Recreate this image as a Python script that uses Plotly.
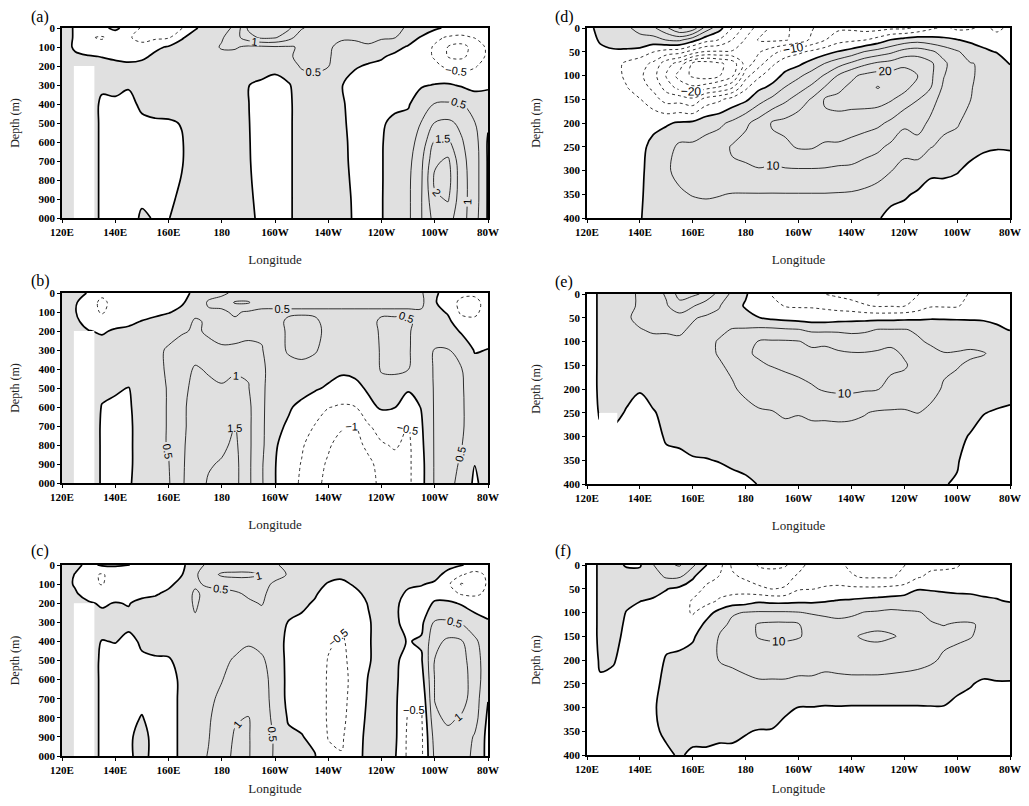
import numpy as np
import plotly.graph_objects as go

# ---------------- axes / ticks ----------------
lon = [120, 125, 130, 135, 140, 145, 150, 155, 160, 165, 170, 175, 180, 185, 190, 195, 200,
       205, 210, 215, 220, 225, 230, 235, 240, 245, 250, 255, 260, 265, 270, 275, 280]
depth_deep = [0, 50, 100, 150, 200, 300, 400, 500, 600, 700, 800, 900, 1000]
depth_shallow = [0, 25, 50, 75, 100, 125, 150, 200, 250, 300, 350, 400]

lon_tickvals = [120, 140, 160, 180, 200, 220, 240, 260, 280]
lon_ticktext = ["120E", "140E", "160E", "180", "160W", "140W", "120W", "100W", "80W"]
deep_tickvals = [0, 100, 200, 300, 400, 500, 600, 700, 800, 900, 1000]
deep_ticktext = ["0", "100", "200", "300", "400", "500", "600", "700", "800", "900", "000"]
shallow_tickvals = [0, 50, 100, 150, 200, 250, 300, 350, 400]
shallow_ticktext = ["0", "50", "100", "150", "200", "250", "300", "350", "400"]

# land / missing-data strips
mask_lon_abc = [124.4, 132.2]
mask_depth_abc = [200, 1000]
mask_lon_e = [124.5, 131.5]
mask_depth_e = [250, 400]

# ---------------- panel data: one list per longitude (values down the depth levels) ----------------
panel_a = [
    [0.2, 0.2, 0.15, 0.2, 0.2, 0.2, 0.2, 0.2, 0.2, 0.2, 0.2, 0.2, 0.2],
    [-0.05, -0.05, -0.05, 0.05, 0.15, 0.2, 0.2, 0.2, 0.2, 0.2, 0.2, 0.2, 0.2],
    [-0.3, -0.45, -0.4, 0.05, 0.2, 0.3, 0.3, 0.3, 0.3, 0.3, 0.3, 0.3, 0.3],
    [-0.1, -0.55, -0.3, -0.02, 0.2, 0.1, -0.1, -0.1, -0.1, -0.1, -0.1, -0.1, -0.1],
    [0.1, -0.3, -0.3, -0.1, 0.15, 0.15, -0.1, -0.25, -0.25, -0.25, -0.25, -0.25, -0.25],
    [-0.2, -0.45, -0.35, -0.15, 0.1, 0.05, -0.15, -0.3, -0.3, -0.3, -0.3, -0.3, -0.3],
    [-0.55, -0.65, -0.35, -0.1, 0.15, 0.2, 0.1, -0.1, -0.25, -0.25, -0.25, -0.1, 0.1],
    [-0.6, -0.6, -0.1, 0.1, 0.25, 0.25, 0.15, -0.05, -0.2, -0.2, -0.2, -0.1, -0.05],
    [-0.6, -0.55, 0.05, 0.2, 0.25, 0.3, 0.2, -0.05, -0.15, -0.15, -0.15, -0.1, -0.02],
    [-0.52, -0.05, 0.2, 0.25, 0.25, 0.3, 0.2, 0.02, -0.03, -0.03, 0.02, 0.1, 0.2],
    [-0.05, 0.2, 0.25, 0.3, 0.3, 0.3, 0.25, 0.25, 0.25, 0.25, 0.25, 0.25, 0.25],
    [0.2, 0.3, 0.3, 0.3, 0.3, 0.3, 0.3, 0.3, 0.3, 0.3, 0.3, 0.3, 0.3],
    [0.3, 0.45, 0.55, 0.35, 0.3, 0.3, 0.3, 0.3, 0.3, 0.3, 0.3, 0.3, 0.3],
    [0.6, 0.8, 0.55, 0.35, 0.3, 0.25, 0.25, 0.25, 0.25, 0.25, 0.25, 0.25, 0.25],
    [1.6, 1.3, 0.4, 0.3, 0.25, 0.01, 0.01, 0.02, 0.03, 0.04, 0.05, 0.07, 0.1],
    [1.9, 1.6, 0.4, 0.3, 0.25, -0.1, -0.2, -0.2, -0.2, -0.2, -0.15, -0.12, -0.1],
    [1.8, 1.55, 0.45, 0.35, 0.2, -0.25, -0.3, -0.3, -0.3, -0.3, -0.3, -0.3, -0.3],
    [1.6, 1.2, 0.45, 0.45, 0.3, -0.05, -0.1, -0.1, -0.1, -0.1, -0.1, -0.1, -0.1],
    [1.05, 0.7, 0.55, 0.6, 0.55, 0.25, 0.25, 0.25, 0.25, 0.25, 0.25, 0.25, 0.25],
    [0.8, 0.6, 0.6, 0.65, 0.6, 0.3, 0.3, 0.3, 0.3, 0.3, 0.3, 0.3, 0.3],
    [0.7, 0.6, 0.55, 0.55, 0.52, 0.25, 0.25, 0.25, 0.25, 0.25, 0.25, 0.25, 0.25],
    [0.7, 0.55, 0.4, 0.3, 0.1, 0.02, 0.05, 0.08, 0.1, 0.1, 0.12, 0.12, 0.15],
    [0.7, 0.55, 0.4, 0.2, 0.05, -0.2, -0.15, -0.15, -0.12, -0.1, -0.08, -0.05, -0.05],
    [0.7, 0.6, 0.45, 0.15, -0.05, -0.3, -0.3, -0.3, -0.3, -0.3, -0.3, -0.3, -0.3],
    [0.7, 0.55, 0.3, 0.05, -0.1, -0.3, -0.2, -0.05, -0.03, -0.03, -0.03, -0.03, -0.03],
    [0.6, 0.52, 0.15, -0.1, -0.2, -0.2, -0.1, 0.1, 0.2, 0.25, 0.25, 0.3, 0.3],
    [0.45, 0.25, -0.05, -0.3, -0.3, -0.2, -0.05, 0.15, 0.3, 0.35, 0.4, 0.4, 0.4],
    [0.3, -0.05, -0.3, -0.3, -0.3, -0.05, 0.3, 0.52, 0.7, 0.9, 0.95, 0.98, 0.98],
    [0.1, -0.4, -0.55, -0.55, -0.4, 0.02, 0.52, 1.02, 1.55, 1.9, 2.1, 1.9, 1.7],
    [-0.1, -0.55, -1.02, -1.02, -0.6, 0.05, 0.55, 1.1, 1.6, 2.1, 2.2, 2.05, 1.7],
    [-0.2, -0.6, -1.2, -1.1, -0.7, -0.05, 0.52, 0.9, 1.05, 1.15, 1.2, 1.2, 1.2],
    [-0.2, -0.48, -0.8, -0.8, -0.55, -0.1, 0.2, 0.52, 0.7, 0.75, 0.75, 0.75, 0.7],
    [-0.1, -0.3, -0.4, -0.4, -0.3, -0.05, 0.15, 0.05, -0.05, -0.05, -0.05, -0.05, -0.05],
]

panel_b = [
    [0.2, 0.2, 0.2, 0.2, 0.2, 0.2, 0.2, 0.2, 0.2, 0.2, 0.2, 0.2, 0.2],
    [0.1, 0.05, 0.02, 0.1, 0.2, 0.2, 0.2, 0.2, 0.2, 0.2, 0.2, 0.2, 0.2],
    [-0.02, -0.3, -0.3, -0.2, 0.02, 0.3, 0.3, 0.3, 0.3, 0.3, 0.3, 0.3, 0.3],
    [-0.4, -0.6, -0.55, -0.3, -0.05, 0.2, 0.25, 0.1, -0.02, -0.05, -0.05, -0.05, -0.05],
    [-0.3, -0.35, -0.3, -0.15, 0.05, 0.25, 0.3, 0.1, -0.15, -0.2, -0.2, -0.2, -0.2],
    [-0.3, -0.35, -0.3, -0.1, 0.1, 0.3, 0.3, -0.02, -0.1, -0.15, -0.15, -0.15, -0.1],
    [-0.3, -0.3, -0.2, 0.02, 0.15, 0.3, 0.35, 0.35, 0.35, 0.35, 0.35, 0.35, 0.35],
    [-0.3, -0.25, -0.05, 0.05, 0.2, 0.4, 0.4, 0.4, 0.4, 0.4, 0.4, 0.4, 0.4],
    [-0.3, -0.2, -0.03, 0.2, 0.35, 0.55, 0.55, 0.52, 0.52, 0.52, 0.52, 0.48, 0.45],
    [-0.15, -0.05, 0.1, 0.3, 0.45, 0.7, 0.8, 0.9, 0.95, 0.95, 0.95, 0.95, 0.95],
    [0.1, 0.2, 0.4, 0.55, 0.55, 0.8, 1.05, 1.1, 1.1, 1.1, 1.15, 1.2, 1.25],
    [0.35, 0.55, 0.45, 0.45, 0.45, 0.6, 0.95, 1.1, 1.2, 1.3, 1.4, 1.45, 1.55],
    [0.45, 0.6, 0.45, 0.45, 0.45, 0.52, 0.85, 1.05, 1.2, 1.3, 1.4, 1.55, 1.6],
    [0.55, 1.05, 0.55, 0.45, 0.4, 0.55, 0.95, 1.1, 1.25, 1.52, 1.6, 1.65, 1.65],
    [0.6, 1.05, 0.45, 0.45, 0.45, 0.55, 0.95, 1.02, 1.1, 1.1, 1.1, 1.1, 1.1],
    [0.55, 0.6, 0.45, 0.45, 0.45, 0.52, 0.6, 0.6, 0.6, 0.6, 0.6, 0.55, 0.55],
    [0.55, 0.6, 0.45, 0.4, 0.35, 0.3, 0.25, 0.2, 0.15, 0.1, 0.05, 0.02, 0.02],
    [0.55, 0.6, 0.45, 0.55, 0.55, 0.55, 0.35, 0.2, 0.05, -0.05, -0.2, -0.3, -0.35],
    [0.55, 0.6, 0.45, 0.6, 0.6, 0.6, 0.4, 0.15, -0.1, -0.3, -0.45, -0.52, -0.55],
    [0.55, 0.6, 0.45, 0.55, 0.6, 0.55, 0.3, 0.05, -0.25, -0.52, -0.7, -0.85, -0.9],
    [0.55, 0.6, 0.45, 0.4, 0.4, 0.3, 0.15, -0.05, -0.48, -0.8, -0.95, -1.05, -1.1],
    [0.55, 0.6, 0.45, 0.4, 0.35, 0.25, 0.1, -0.2, -0.55, -0.95, -1.15, -1.25, -1.3],
    [0.55, 0.6, 0.45, 0.4, 0.35, 0.25, 0.1, -0.1, -0.52, -1.02, -1.15, -1.25, -1.3],
    [0.55, 0.6, 0.45, 0.4, 0.35, 0.25, 0.15, 0.05, -0.1, -0.55, -0.9, -1.1, -1.15],
    [0.55, 0.6, 0.45, 0.55, 0.55, 0.55, 0.55, 0.3, 0.05, -0.3, -0.55, -0.85, -0.9],
    [0.55, 0.6, 0.45, 0.55, 0.6, 0.6, 0.6, 0.25, 0.01, -0.2, -0.45, -0.65, -0.7],
    [0.55, 0.6, 0.45, 0.55, 0.55, 0.55, 0.52, 0.05, -0.2, -0.52, -0.6, -0.6, -0.6],
    [0.55, 0.6, 0.45, 0.4, 0.3, 0.25, 0.2, 0.1, 0.02, -0.05, -0.1, -0.15, -0.15],
    [0.1, 0.05, 0.15, 0.25, 0.3, 0.52, 0.55, 0.55, 0.55, 0.55, 0.55, 0.55, 0.55],
    [-0.25, -0.3, -0.05, 0.1, 0.2, 0.52, 0.6, 0.65, 0.65, 0.65, 0.65, 0.65, 0.6],
    [-0.4, -0.6, -0.6, -0.3, -0.05, 0.3, 0.52, 0.55, 0.55, 0.55, 0.52, 0.45, 0.4],
    [-0.4, -0.65, -0.6, -0.4, -0.2, -0.03, 0.15, 0.25, 0.3, 0.3, 0.2, 0.01, -0.1],
    [-0.2, -0.3, -0.3, -0.25, -0.15, 0.01, 0.1, 0.2, 0.25, 0.25, 0.25, 0.25, 0.25],
]

panel_c = [
    [0.2, 0.2, 0.2, 0.2, 0.2, 0.2, 0.2, 0.2, 0.2, 0.2, 0.2, 0.2, 0.2],
    [0.1, -0.02, -0.05, 0.05, 0.2, 0.2, 0.2, 0.2, 0.2, 0.2, 0.2, 0.2, 0.2],
    [-0.1, -0.35, -0.4, -0.2, 0.05, 0.3, 0.3, 0.3, 0.3, 0.3, 0.3, 0.3, 0.3],
    [0.05, -0.55, -0.52, -0.25, -0.05, 0.15, -0.02, -0.1, -0.1, -0.1, -0.1, -0.1, -0.1],
    [0.05, -0.3, -0.35, -0.2, 0.02, 0.15, 0.02, -0.2, -0.25, -0.25, -0.25, -0.25, -0.25],
    [0.02, -0.3, -0.3, -0.2, -0.02, 0.1, -0.1, -0.25, -0.25, -0.2, -0.1, -0.05, -0.05],
    [-0.2, -0.35, -0.3, -0.1, 0.1, 0.25, 0.05, -0.05, -0.15, -0.1, 0.02, 0.1, 0.1],
    [-0.2, -0.3, -0.25, -0.05, 0.15, 0.3, 0.15, -0.05, -0.2, -0.2, -0.15, -0.1, -0.1],
    [-0.15, -0.25, -0.1, 0.1, 0.25, 0.3, 0.2, -0.05, -0.2, -0.2, -0.2, -0.2, -0.2],
    [-0.1, -0.02, 0.15, 0.3, 0.3, 0.35, 0.3, 0.15, 0.1, 0.1, 0.1, 0.1, 0.1],
    [0.3, 0.45, 0.45, 0.55, 0.55, 0.45, 0.3, 0.3, 0.3, 0.3, 0.3, 0.35, 0.35],
    [0.6, 0.7, 0.55, 0.4, 0.35, 0.3, 0.3, 0.3, 0.35, 0.4, 0.45, 0.48, 0.52],
    [0.55, 1.1, 0.55, 0.45, 0.35, 0.3, 0.3, 0.4, 0.48, 0.6, 0.7, 0.75, 0.8],
    [0.55, 1.15, 0.65, 0.45, 0.35, 0.3, 0.35, 0.55, 0.7, 0.8, 0.95, 1.05, 1.1],
    [0.55, 1.15, 0.65, 0.55, 0.45, 0.35, 0.45, 0.65, 0.75, 0.85, 1.02, 1.05, 1.05],
    [0.55, 1.02, 0.6, 0.55, 0.52, 0.35, 0.4, 0.55, 0.6, 0.6, 0.6, 0.6, 0.6],
    [0.52, 0.6, 0.45, 0.4, 0.35, 0.3, 0.3, 0.35, 0.4, 0.42, 0.45, 0.48, 0.48],
    [0.45, 0.48, 0.4, 0.3, 0.2, -0.02, -0.15, -0.15, -0.15, -0.15, -0.05, 0.1, 0.2],
    [0.4, 0.4, 0.3, 0.2, 0.1, -0.1, -0.2, -0.2, -0.15, -0.15, -0.1, 0.02, 0.1],
    [0.4, 0.35, 0.2, 0.05, -0.05, -0.2, -0.25, -0.25, -0.2, -0.2, -0.2, -0.1, 0.02],
    [0.35, 0.2, -0.05, -0.2, -0.3, -0.35, -0.45, -0.52, -0.55, -0.55, -0.55, -0.52, -0.4],
    [0.3, 0.1, -0.1, -0.25, -0.35, -0.45, -0.55, -0.6, -0.65, -0.65, -0.6, -0.55, -0.48],
    [0.3, 0.15, 0.05, -0.1, -0.2, -0.3, -0.35, -0.35, -0.35, -0.3, -0.3, -0.25, -0.2],
    [0.3, 0.25, 0.2, 0.1, 0.02, -0.05, -0.05, -0.05, 0.02, 0.05, 0.1, 0.15, 0.15],
    [0.3, 0.25, 0.2, 0.2, 0.2, 0.2, 0.2, 0.2, 0.2, 0.2, 0.2, 0.2, 0.2],
    [0.25, 0.2, 0.1, 0.1, 0.1, 0.1, 0.1, 0.1, 0.1, 0.1, 0.1, 0.1, 0.05],
    [0.25, 0.2, 0.05, -0.05, -0.2, -0.2, -0.02, -0.2, -0.3, -0.45, -0.55, -0.6, -0.6],
    [0.2, 0.1, 0.02, -0.1, -0.2, -0.1, 0.05, -0.05, -0.2, -0.4, -0.55, -0.6, -0.6],
    [0.2, 0.1, -0.05, -0.15, 0.05, 0.55, 0.85, 1.02, 1.02, 1.02, 0.9, 0.7, 0.6],
    [0.1, -0.1, -0.4, -0.3, 0.1, 0.55, 1.1, 1.3, 1.35, 1.3, 1.1, 0.85, 0.75],
    [0.02, -0.45, -1.05, -0.55, -0.05, 0.45, 1.05, 1.2, 1.25, 1.2, 0.95, 0.8, 0.7],
    [-0.1, -0.7, -0.75, -0.6, -0.2, 0.2, 0.6, 0.7, 0.75, 0.75, 0.7, 0.45, 0.4],
    [-0.1, -0.4, -0.45, -0.4, -0.25, 0.05, 0.2, 0.25, 0.2, 0.02, -0.1, -0.15, -0.15],
]

panel_d = [
    [-2, -2, -2, -2, -2, -2, -2, -2, -2, -2, -2, -2],
    [2, 0.5, -1, -2, -2, -2, -2, -2, -2, -2, -2, -2],
    [4, 3, -1, -3, -3, -3, -2, -2, -2, -2, -2, -2],
    [4.5, 3, -1, -6, -6, -4.8, -3, -2, -2, -2, -2, -2],
    [6, 4, -2, -8, -9, -8, -4.8, -2, -1, -1, -1, -0.5],
    [9, 3, -4.8, -11, -13, -11, -8, -1, 1, 2, 3, 3],
    [14, 5.2, -7, -18, -20.5, -17, -12, -0.5, 3, 4.5, 4.5, 4],
    [20.5, 6, -8, -22, -27, -22, -12, 0.5, 6, 6, 4.5, 3],
    [18, 2, -12, -31, -31, -24, -14, 1, 6, 7, 5.2, 3],
    [8, -3, -15.5, -33, -33, -22, -8, 3, 7, 8, 5.5, 3],
    [2, -5.2, -15.5, -31, -30.5, -19.5, -6, 4, 8, 8, 5.2, 3],
    [-5.2, -10.2, -15.5, -28, -26, -15.5, -3, 6, 10.5, 9.3, 4.8, 3],
    [-12, -15.5, -15.5, -18, -12, -6, -1, 9, 12, 9, 4.8, 3],
    [-17, -20.5, -15.5, -12, -6, -1, 3, 12, 14, 9.5, 4.8, 2.5],
    [-21, -21, -12, -6, -2, 1, 6, 15.5, 13.5, 9, 4.8, 2.5],
    [-21, -20.5, -8, -2, 1, 5.2, 9, 16.5, 14, 9.5, 4.8, 2.5],
    [-18, -18, -6, -1, 4, 8, 12, 18, 15.5, 9.5, 4.8, 2],
    [-15.5, -14, -4, 2, 7, 11, 15.5, 19, 15.5, 9.5, 4.8, 2],
    [-12, -10.2, -2, 5.2, 10.5, 15.3, 20.5, 19, 14, 9.5, 4.8, 1.5],
    [-11, -7, 0.3, 8, 15.3, 19, 21, 19, 14, 9, 4.7, 1.5],
    [-11, -6, 2, 11, 19, 21, 21.5, 18, 13, 9, 4.5, 1],
    [-12, -5.2, 5.2, 14, 21, 23, 22, 17, 12, 8, 4, 0.5],
    [-12, -3, 7, 16, 22, 25.3, 22, 16, 11, 7, 3, 0.3],
    [-11, 0.2, 9, 17, 22, 23, 20.5, 14, 9, 5.2, 1, -1],
    [-11, 2, 12, 19, 22, 21.5, 18, 11, 7, 3, 0.5, -1.5],
    [-9, 3, 13, 18, 20.3, 18, 15.2, 12, 8, 2.5, -0.5, -2],
    [-6, 2, 11, 16, 16, 15.2, 12, 9, 5.2, 1, -2, -3],
    [-4, 1, 8, 11, 10.2, 9, 8, 6, 4, 1, -2, -3],
    [-6, 0.2, 5.5, 7, 7, 7, 6.5, 5.5, 3, 0.3, -2, -3],
    [-5.5, -1, 3, 5.2, 5.5, 5.3, 5.1, 3, 1.5, -1, -2.5, -3],
    [-4, -2, 1, 4.5, 4, 3.5, 3, 2, 0.5, -1.5, -3, -3],
    [-6, -3, -0.3, 3, 3, 2.5, 2, 1, 0.2, -1.5, -3, -3],
    [-4, -4, -2, -0.2, 2, 2, 1.5, 1, 0.3, -1.5, -3, -3],
]

panel_e = [
    [-3, -3, -3, -3, -3, -3, -3, -3, -3, -3, -3, -3],
    [1, 1, 1, 1, 1, 1, 1, 1, 0.5, -1, -1, -1],
    [3, 3, 3, 3, 3, 3, 3, 2.5, 1, -1, -1.5, -2],
    [4, 4, 4.5, 4, 3.5, 3, 2.5, 1, -0.3, -2, -2, -2],
    [5.5, 5.5, 6, 4.8, 4, 3.5, 3, 0.2, -1, -2, -2, -2],
    [8, 7, 6.5, 5.5, 4, 3.5, 3, 1.5, -0.3, -1.5, -2, -2],
    [10.5, 9.5, 7, 5.5, 4, 3.5, 3, 2, 1, 0.5, -1, -2],
    [17, 13, 8, 5.5, 4.5, 4, 3.5, 2.5, 1.5, 0.5, -0.5, -1.5],
    [16, 10.5, 5.3, 4.5, 4, 3.5, 3.5, 3, 2, 1, -0.2, -1],
    [14, 7, 4.5, 4, 4, 4, 4, 3.5, 2.5, 1, -0.1, -1],
    [8, 5.3, 4, 4.2, 5.3, 5.3, 4.6, 4, 3, 1.5, 0.1, -1],
    [4, 2, 3, 5.2, 6, 6, 5.8, 4.5, 3, 1.5, 0.3, -0.5],
    [0.5, -0.5, 1.5, 5.5, 8, 9.5, 8, 6, 3.5, 2, 0.8, -0.5],
    [-3, -2, 0.1, 6, 10.3, 10.5, 9.5, 7, 4.5, 2.5, 1, 0.1],
    [-5.2, -4, -1, 6, 10.5, 11.5, 10.2, 7, 4.8, 3, 1.5, 0.5],
    [-6, -5.2, -1.5, 5.5, 10.5, 11.5, 11, 7.5, 5.5, 3.5, 2, 1],
    [-7, -5.5, -2, 5.2, 10.2, 11.5, 11.5, 8.5, 5.2, 3.5, 2, 1.5],
    [-8, -5.5, -2.5, 4, 9, 11, 12, 9.5, 5.5, 4, 2.5, 1.5],
    [-10.2, -6, -2.5, 4, 9, 11.5, 12, 10.5, 5.5, 4, 2.5, 1.5],
    [-11, -7, -2, 4, 8.5, 10.5, 12, 11, 5.5, 4.2, 2.5, 1.5],
    [-12, -8, -1.5, 3.5, 8, 10.2, 11.5, 11, 5.5, 4, 2.5, 1.5],
    [-13, -9.5, -1.5, 4, 8, 10.2, 11.5, 10.5, 5.2, 3.5, 2, 1.2],
    [-15.5, -10.5, -1.5, 5.2, 8.5, 10.5, 11.5, 10.2, 4.5, 3, 1.8, 1],
    [-12, -10.3, -1.5, 5.2, 9, 11, 11, 8.5, 4.5, 3, 1.5, 0.8],
    [-11, -10.2, -1.2, 5.2, 8.5, 9.5, 10.5, 8, 4.5, 2.5, 1.2, 0.5],
    [-10.3, -8, -1, 4.5, 5.5, 8, 8.5, 7, 5.1, 2.2, 1, 0.3],
    [-8, -5.5, -0.5, 3.5, 4.5, 6, 7, 6.5, 4, 2, 1, 0.3],
    [-8, -5.5, -0.5, 3, 4, 5.1, 5.8, 4.5, 3, 1.5, 0.5, 0.1],
    [-7, -5.5, -0.5, 2.5, 4, 5.2, 5.2, 4, 2.5, 1, 0.2, -0.2],
    [-4.5, -3, -0.5, 2, 4, 5.5, 4.5, 3, 1.5, -0.3, -1, -1.5],
    [-3, -2, -0.5, 1.5, 3.5, 5.2, 4, 2, 0.1, -1, -1.5, -2],
    [-3, -2, -1, 0.8, 3, 4, 3, 1.5, -0.3, -1, -1.5, -2],
    [-2, -1.5, -1, -0.2, 2.5, 3, 2.5, 1, -0.5, -1, -1.5, -2],
]

panel_f = [
    [-3, -3, -3, -3, -3, -3, -3, -3, -3, -3, -3, -3],
    [1, 1, 1, 1, 1, 1, 1, 0.5, -0.5, -1, -1.5, -2],
    [1.5, 2, 2, 2, 2, 2, 1.5, 0.3, -1, -1.5, -2, -2],
    [-0.5, 2, 2, 1, -0.2, -0.8, -1.2, -1.5, -2, -2, -2, -2],
    [-0.5, 2, 1.5, 0.1, -1, -1.5, -1.5, -1.5, -1.5, -1.5, -1.5, -1.5],
    [4.8, 3, 1, -0.3, -1.5, -2, -2, -1.5, -1, -0.5, -0.5, -0.5],
    [9, 5.5, 0.2, -1.5, -2.5, -2.5, -1, 0.3, 1, 1.5, 0.5, -0.5],
    [10.5, 5.5, -1, -2, -3, -3, -1.5, 1, 1.5, 2, 1, 0.3],
    [6, 0.5, -2, -5.5, -5.5, -3, -0.5, 1.5, 2, 2, 1, -0.5],
    [0.2, -3, -6, -7, -2, 1, 2, 3, 3, 2.5, 1, -0.5],
    [-3, -5.2, -7, -4.5, 1.5, 3.5, 5.2, 5.1, 4, 2.5, 0.8, -0.8],
    [-11, -9, -7, -3, 4.5, 6, 7, 5.5, 4, 2.5, 1, -1],
    [-12, -11, -7, -2.5, 5.2, 8, 8.5, 6.5, 4, 2.5, 0.2, -1],
    [-15.5, -12.5, -9, -1, 5.5, 10.5, 10.3, 7, 4.5, 2.5, -0.2, -1],
    [-16, -13, -10.2, -1.5, 5.5, 11, 10.8, 7, 4.5, 2.5, -0.3, -0.5],
    [-15.5, -12, -9.5, -1.5, 5.5, 11, 10.8, 7, 4.5, 0.3, -0.5, -1],
    [-12, -9, -5.5, -1, 5.2, 10.3, 10.3, 7, 4, -0.05, -0.5, -1],
    [-8, -7, -5.2, -1, 4.5, 8, 9, 7, 4, -0.1, -0.5, -1],
    [-8, -7, -4.5, -0.5, 4, 7, 8.5, 6.5, 3.5, -0.3, -1, -1.5],
    [-9, -7.5, -4, 0.2, 3.5, 6.5, 8.5, 7, 3.5, -0.2, -1, -1.5],
    [-11, -9.5, -4, 0.5, 4, 7, 9.5, 7.5, 3.5, -0.3, -1, -1.5],
    [-12, -10.5, -4, 1, 5.2, 8.5, 10.5, 7.5, 3.5, -0.3, -1, -1.5],
    [-12, -10.5, -4, 1.5, 5.5, 9, 10.8, 7.5, 3.5, -0.3, -1, -1.5],
    [-12, -10.5, -3.5, 2, 6, 9, 10.3, 7, 3.5, -0.3, -1, -1.5],
    [-10.2, -8.5, -3, 2.5, 5.5, 8.5, 9.5, 6.5, 3.5, -0.3, -1, -1.5],
    [-7, -5.5, -0.3, 3, 5.2, 6.5, 8, 6, 3.5, -0.3, -1, -1.5],
    [-6, -4, -0.5, 2.5, 4.5, 5.2, 6.5, 5.5, 3, -0.2, -1, -1.5],
    [-6, -3.5, -0.8, 2, 4, 4.9, 5.8, 4.5, 2.5, -0.2, -1, -1.5],
    [-5.5, -3, -1, 1.5, 3.5, 5.3, 5.5, 4, 0.8, -0.8, -1.2, -1.5],
    [-3, -2, -0.8, 1, 3.5, 5.3, 5.2, 3, 0.2, -1, -1.5, -1.5],
    [-3, -1.5, -1, 0.5, 3, 4.5, 4, 2, -0.5, -1, -1.5, -1.5],
    [-3, -1.5, -1, 0.2, 2.5, 3.5, 3, 1.5, -0.2, -1, -1.5, -1.5],
    [-2, -1.5, -1, -0.3, 2, 3, 2.5, 1.5, -0.2, -1, -1.5, -1.5],
]

# ---------------- styling ----------------
# The page body keeps an 8 px margin, so the figure is 16 px smaller than the window
# and every reference pixel position is shifted by that margin.
OFF = 8
W, H = 1029 - 2 * OFF, 806 - 2 * OFF - 2
GRAY = "#e0e0e0"
BLACK_SCALE = [[0, "black"], [1, "black"]]
TICKFONT = dict(family="Liberation Serif", size=11, color="black", weight="bold")
TITLEFONT = dict(family="Liberation Serif", size=12, color="#222")
LABELFONT_L = dict(family="Liberation Sans", size=11, color="black")
LABELFONT_R = dict(family="Liberation Sans", size=12, color="black")

# reference pixel boxes (left, top, right, bottom) of each panel
boxes = {
    "a": (62, 28, 488, 218), "d": (587, 28, 1010, 218),
    "b": (62, 293, 488, 483), "e": (587, 294, 1010, 484),
    "c": (62, 565, 488, 756), "f": (587, 565, 1010, 755),
}
label_pos = {"a": (29, 17), "b": (29, 281), "c": (29, 551),
             "d": (553, 17), "e": (553, 282), "f": (553, 551)}

panels = [
    ("a", panel_a, depth_deep, "deep"),
    ("d", panel_d, depth_shallow, "shallow"),
    ("b", panel_b, depth_deep, "deep"),
    ("e", panel_e, depth_shallow, "shallow"),
    ("c", panel_c, depth_deep, "deep"),
    ("f", panel_f, depth_shallow, "shallow"),
]


def px_x(p):
    return (p - OFF) / W


def px_y(p):
    return 1 - (p - OFF) / H


fig = go.Figure()
layout = dict(width=W, height=H, margin=dict(l=0, r=0, t=0, b=0),
              paper_bgcolor="white", plot_bgcolor="white", showlegend=False,
              annotations=[])

for i, (name, cols, depths, kind) in enumerate(panels, start=1):
    assert len(cols) == len(lon), name
    for c in cols:
        assert len(c) == len(depths), name
    z = np.array(cols, dtype=float).T
    xa = "x" if i == 1 else f"x{i}"
    ya = "y" if i == 1 else f"y{i}"
    common = dict(x=lon, y=depths, z=z, xaxis=xa, yaxis=ya, showscale=False,
                  hoverinfo="skip", autocontour=False)

    # fill: grey where positive, white where negative, thick zero line
    fig.add_trace(go.Contour(
        **common,
        contours=dict(start=0, end=0, size=1, coloring="fill", showlabels=False),
        colorscale=[[0, "white"], [1, GRAY]],
        line=dict(color="black", width=1.7)))

    # missing data strip
    if kind == "deep":
        mlon, mdep = mask_lon_abc, mask_depth_abc
    elif name == "e":
        mlon, mdep = mask_lon_e, mask_depth_e
    else:
        mlon, mdep = None, None
    if mlon is not None:
        fig.add_trace(go.Contour(
            x=mlon, y=mdep, z=[[1, 1], [1, 1]], xaxis=xa, yaxis=ya,
            showscale=False, hoverinfo="skip", autocontour=False,
            contours=dict(start=0, end=0, size=1, coloring="fill"),
            colorscale=[[0, "white"], [1, "white"]],
            line=dict(width=0)))

    line_common = dict(colorscale=BLACK_SCALE)
    if kind == "deep":
        fig.add_trace(go.Contour(
            **common, **line_common,
            contours=dict(start=0.5, end=5, size=0.5, coloring="none",
                          showlabels=True, labelfont=LABELFONT_L),
            line=dict(color="black", width=0.8)))
        fig.add_trace(go.Contour(
            **common, **line_common,
            contours=dict(start=-5, end=-0.5, size=0.5, coloring="none",
                          showlabels=True, labelfont=LABELFONT_L),
            line=dict(color="black", width=0.8, dash="dot")))
    else:
        # unlabelled odd levels, labelled multiples of ten
        fig.add_trace(go.Contour(
            **common, **line_common,
            contours=dict(start=5, end=45, size=10, coloring="none", showlabels=False),
            line=dict(color="black", width=0.8)))
        fig.add_trace(go.Contour(
            **common, **line_common,
            contours=dict(start=10, end=40, size=10, coloring="none",
                          showlabels=True, labelfont=LABELFONT_R),
            line=dict(color="black", width=0.8)))
        fig.add_trace(go.Contour(
            **common, **line_common,
            contours=dict(start=-45, end=-5, size=10, coloring="none", showlabels=False),
            line=dict(color="black", width=0.8, dash="dot")))
        fig.add_trace(go.Contour(
            **common, **line_common,
            contours=dict(start=-40, end=-10, size=10, coloring="none",
                          showlabels=True, labelfont=LABELFONT_R),
            line=dict(color="black", width=0.8, dash="dot")))

    l, t, r, b = boxes[name]
    xkey = "xaxis" if i == 1 else f"xaxis{i}"
    ykey = "yaxis" if i == 1 else f"yaxis{i}"
    layout[xkey] = dict(
        domain=[px_x(l), px_x(r)], anchor=ya, range=[120, 280],
        tickmode="array", tickvals=lon_tickvals, ticktext=lon_ticktext,
        tickfont=TICKFONT, ticks="outside", ticklen=3, tickcolor="black",
        ticklabeloverflow="allow",
        showline=True, linecolor="black", linewidth=1.5, mirror=True,
        showgrid=False, zeroline=False, automargin=False,
        title=dict(text="Longitude", font=dict(family="Liberation Serif", size=13, color="#222"),
                   standoff=18))
    if kind == "deep":
        tv, tt, rng, so = deep_tickvals, deep_ticktext, [1000, 0], 16
    else:
        tv, tt, rng, so = shallow_tickvals, shallow_ticktext, [400, 0], 20
    layout[ykey] = dict(
        domain=[px_y(b), px_y(t)], anchor=xa, range=rng,
        tickmode="array", tickvals=tv, ticktext=tt,
        tickfont=TICKFONT, ticks="outside", ticklen=3, tickcolor="black",
        ticklabeloverflow="allow",
        showline=True, linecolor="black", linewidth=1.5, mirror=True,
        showgrid=False, zeroline=False, automargin=False,
        title=dict(text="Depth (m)", font=TITLEFONT, standoff=so))

    lx, ly = label_pos[name]
    layout["annotations"].append(dict(
        text=f"({name})", xref="paper", yref="paper", x=px_x(lx), y=px_y(ly),
        xanchor="left", yanchor="middle", showarrow=False,
        font=dict(family="Liberation Serif", size=16, color="black")))

fig.update_layout(**layout)
fig.write_html("out.html")
